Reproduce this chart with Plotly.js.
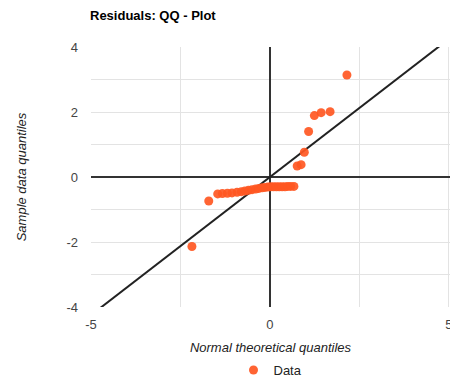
<!DOCTYPE html>
<html>
<head>
<meta charset="utf-8">
<script src="https://cdn.plot.ly/plotly-3.0.1.min.js"></script>
<style>html,body{margin:0;padding:0;background:#fff;}#chart{width:450px;height:381px;}</style>
</head>
<body>
<div id="chart"></div>
<script>
// Theoretical (normal) quantiles and sample residual quantiles
const theoreticalQ = [-2.18, -1.71, -1.46, -1.33, -1.19, -1.06, -0.92, -0.80, -0.70, -0.60, -0.50, -0.40, -0.31, -0.22, -0.14, -0.06, 0.02, 0.10, 0.18, 0.26, 0.34, 0.42, 0.50, 0.58, 0.67, 0.76, 0.87, 0.96, 1.08, 1.24, 1.43, 1.68, 2.15];
const sampleQ = [-2.14, -0.74, -0.52, -0.51, -0.50, -0.49, -0.47, -0.45, -0.43, -0.41, -0.39, -0.37, -0.35, -0.33, -0.32, -0.31, -0.30, -0.30, -0.30, -0.30, -0.30, -0.30, -0.29, -0.29, -0.29, 0.34, 0.38, 0.76, 1.40, 1.89, 1.98, 2.01, 3.14];
// Reference line
const lineX = [-5, 5];
const lineY = [-4.25, 4.25];
const xTickVals = [-5, 0, 5];
const xTickText = ['-5', '0', '5'];
const yTickVals = [-4, -2, 0, 2, 4];
const yTickText = ['-4', '-2', '0', '2', '4'];

const FONT = 'Arial, "Liberation Sans", sans-serif';
const traces = [
  {x: lineX, y: lineY, type: 'scatter', mode: 'lines', line: {color: '#222222', width: 2}, showlegend: false, hoverinfo: 'skip'},
  {x: theoreticalQ, y: sampleQ, type: 'scatter', mode: 'markers', name: 'Data',
   marker: {color: '#ff5722', size: 9, opacity: 0.92}}
];
const layout = {
  width: 450, height: 381,
  margin: {l: 91, r: 0, t: 47, b: 74, autoexpand: false},
  paper_bgcolor: '#ffffff', plot_bgcolor: '#ffffff',
  font: {family: FONT, size: 13, color: '#444444'},
  title: {text: '<b>Residuals: QQ - Plot</b>', x: 90/450, xref: 'container', xanchor: 'left', y: 1 - 15/381, yref: 'container', yanchor: 'middle', font: {family: FONT, size: 13, color: '#000000'}},
  xaxis: {range: [-5, 5.03], tickvals: xTickVals, ticktext: xTickText, showgrid: true, gridcolor: '#e3e3e3', gridwidth: 1,
    minor: {dtick: 2.5, tick0: 0, showgrid: true, gridcolor: '#e3e3e3', gridwidth: 1},
    zeroline: true, zerolinecolor: '#333333', zerolinewidth: 1.3, showline: false, ticks: '', ticklabelstandoff: 8,
    ticklabeloverflow: 'allow', automargin: false,
    tickfont: {size: 13, color: '#444444'},
    title: {text: '<i>Normal theoretical quantiles</i>', standoff: 12, font: {size: 13, color: '#222222'}}, fixedrange: true},
  yaxis: {range: [-4, 4], tickvals: yTickVals, ticktext: yTickText, showgrid: true, gridcolor: '#e3e3e3', gridwidth: 1,
    minor: {dtick: 1, tick0: 0, showgrid: true, gridcolor: '#e3e3e3', gridwidth: 1},
    zeroline: true, zerolinecolor: '#333333', zerolinewidth: 1.3, showline: false, ticks: '', ticklabelstandoff: 12,
    automargin: false,
    tickfont: {size: 13, color: '#444444'},
    title: {text: '<i>Sample data quantiles</i>', standoff: 36, font: {size: 13, color: '#222222'}}, fixedrange: true},
  showlegend: true,
  legend: {orientation: 'h', x: 0.5, xanchor: 'center', y: 1 - 370/381, yref: 'container', yanchor: 'middle', font: {size: 13, color: '#222222'}},
};
Plotly.newPlot('chart', traces, layout, {displayModeBar: false, staticPlot: true});
</script>
</body>
</html>
